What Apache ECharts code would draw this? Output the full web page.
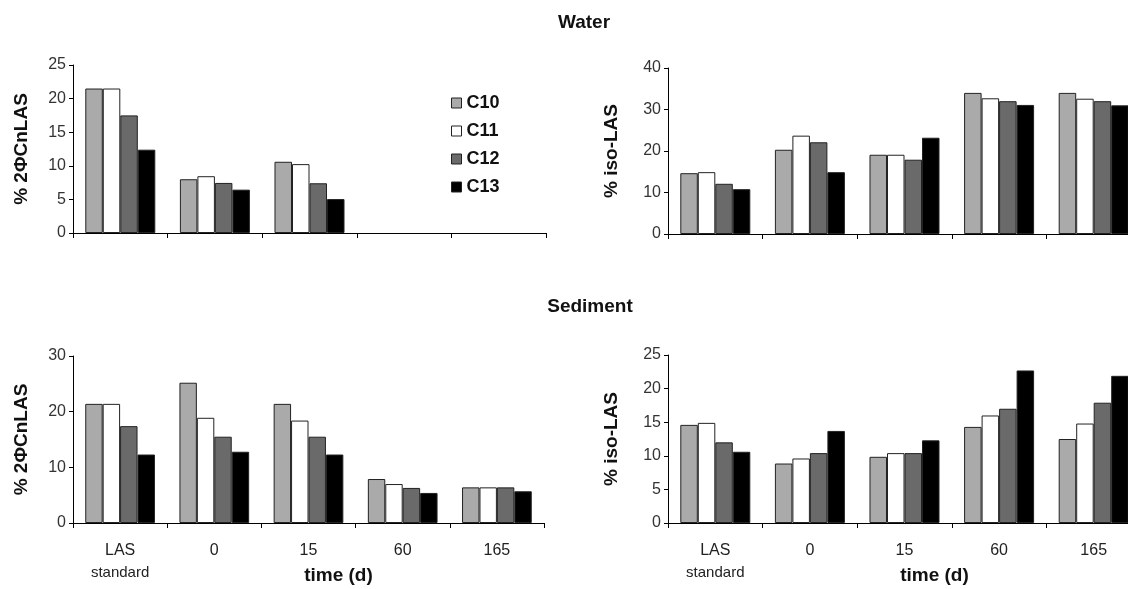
<!DOCTYPE html>
<html>
<head>
<meta charset="utf-8">
<title>LAS homologues</title>
<script src="https://cdn.jsdelivr.net/npm/echarts@6.0.0/dist/echarts.min.js"></script>
<style>
  html, body { margin: 0; padding: 0; background: #fff; }
  #main { width: 1128px; height: 589px; }
</style>
</head>
<body>
<div id="main"></div>
<script>
(function (echarts) {

  'use strict';

  var times = ['LAS\nstandard', '0', '15', '60', '165'];
  var chains = ['C10', 'C11', 'C12', 'C13'];
  var colors = ['#aaaaaa', '#ffffff', '#6a6a6a', '#000000'];

  // water, % 2ΦCnLAS  (no bars at 60 and 165 d)
  var waterPhi = [
    [21.5, 8.0, 10.6, '-', '-'],
    [21.5, 8.45, 10.25, '-', '-'],
    [17.5, 7.45, 7.4, '-', '-'],
    [12.4, 6.45, 5.05, '-', '-']
  ];
  // water, % iso-LAS
  var waterIso = [
    [14.65, 20.3, 19.1, 34.0, 34.0],
    [14.9, 23.7, 19.1, 32.7, 32.6],
    [12.1, 22.1, 17.9, 32.0, 32.0],
    [10.8, 14.9, 23.2, 31.1, 31.0]
  ];
  // sediment, % 2ΦCnLAS
  var sedPhi = [
    [21.4, 25.2, 21.4, 7.9, 6.4],
    [21.4, 18.9, 18.4, 7.0, 6.4],
    [17.4, 15.5, 15.5, 6.3, 6.4],
    [12.3, 12.8, 12.3, 5.4, 5.7]
  ];
  // sediment, % iso-LAS
  var sedIso = [
    [14.6, 8.85, 9.85, 14.3, 12.5],
    [14.9, 9.6, 10.4, 16.0, 14.8],
    [12.0, 10.4, 10.4, 17.0, 17.9],
    [10.6, 13.7, 12.3, 22.7, 21.9]
  ];

  var FONT = '"Liberation Sans", Arial, sans-serif';

  function bars(values, idx) {
    return chains.map(function (name, i) {
      return {
        type: 'bar',
        name: name,
        xAxisIndex: idx,
        yAxisIndex: idx,
        data: values[i],
        barGap: '0%',
        barCategoryGap: '26%',
        itemStyle: {color: colors[i], borderColor: '#222', borderWidth: 1},
        emphasis: {disabled: true}
      };
    });
  }

  function xAxis(idx, withLabels) {
    return {
      type: 'category',
      gridIndex: idx,
      data: times,
      axisLine: {lineStyle: {color: '#000', width: 1}},
      axisTick: {show: true, length: 5, lineStyle: {color: '#000'}},
      axisLabel: {
        show: withLabels,
        margin: 19,
        formatter: function (v) {
          var parts = v.split('\n');
          return '{a|' + parts[0] + '}' + (parts[1] ? '\n{b|' + parts[1] + '}' : '');
        },
        rich: {
          a: {fontSize: 16, lineHeight: 18, color: '#222', fontFamily: FONT},
          b: {fontSize: 15, lineHeight: 26, color: '#222', fontFamily: FONT}
        }
      },
      name: withLabels ? 'time (d)' : '',
      nameLocation: 'middle',
      nameGap: 43,
      nameMoveOverlap: false,
      nameTextStyle: {
        fontSize: 19, fontWeight: 'bold', color: '#111', fontFamily: FONT,
        padding: [0, 0, 0, 60]
      }
    };
  }

  function yAxis(idx, max, interval, name, gap) {
    return {
      type: 'value',
      gridIndex: idx,
      min: 0,
      max: max,
      interval: interval,
      name: name,
      nameLocation: 'middle',
      nameGap: gap,
      nameMoveOverlap: false,
      nameTextStyle: {fontSize: 19, fontWeight: 'bold', color: '#111', fontFamily: FONT},
      axisLine: {show: true, lineStyle: {color: '#000', width: 1}},
      axisTick: {show: true, length: 4, lineStyle: {color: '#000'}},
      axisLabel: {fontSize: 16, color: '#333', margin: 7, fontFamily: FONT},
      splitLine: {show: false}
    };
  }

  function grid(left, top, width, height) {
    return {left: left, top: top, width: width, height: height, outerBoundsMode: 'none'};
  }

  echarts.init(document.getElementById('main')).setOption({
    animation: false,
    backgroundColor: '#fff',
    textStyle: {fontFamily: FONT},
    graphic: [
      {type: 'text', x: 584, y: 23, style: {text: 'Water', align: 'center', verticalAlign: 'middle',
        font: 'bold 19px "Liberation Sans", Arial, sans-serif', fill: '#111'}},
      {type: 'text', x: 590, y: 307, style: {text: 'Sediment', align: 'center', verticalAlign: 'middle',
        font: 'bold 19px "Liberation Sans", Arial, sans-serif', fill: '#111'}}
    ],
    legend: {
      data: chains,
      orient: 'vertical',
      left: 446,
      top: 89,
      itemWidth: 10,
      itemHeight: 10,
      itemGap: 10,
      icon: 'rect',
      itemStyle: {borderColor: '#222', borderWidth: 1},
      textStyle: {fontSize: 18, fontWeight: 'bold', color: '#111', lineHeight: 18, fontFamily: FONT}
    },
    grid: [
      grid(73, 65, 473, 168),
      grid(668, 68, 473, 166),
      grid(73, 356, 471, 167),
      grid(668, 355, 473, 168)
    ],
    xAxis: [xAxis(0, false), xAxis(1, false), xAxis(2, true), xAxis(3, true)],
    yAxis: [
      yAxis(0, 25, 5, '% 2ΦCnLAS', 42),
      yAxis(1, 40, 10, '% iso-LAS', 47),
      yAxis(2, 30, 10, '% 2ΦCnLAS', 42),
      yAxis(3, 25, 5, '% iso-LAS', 47)
    ],
    series: [].concat(bars(waterPhi, 0), bars(waterIso, 1), bars(sedPhi, 2), bars(sedIso, 3))
  });
})(window.echarts);
</script>
</body>
</html>
